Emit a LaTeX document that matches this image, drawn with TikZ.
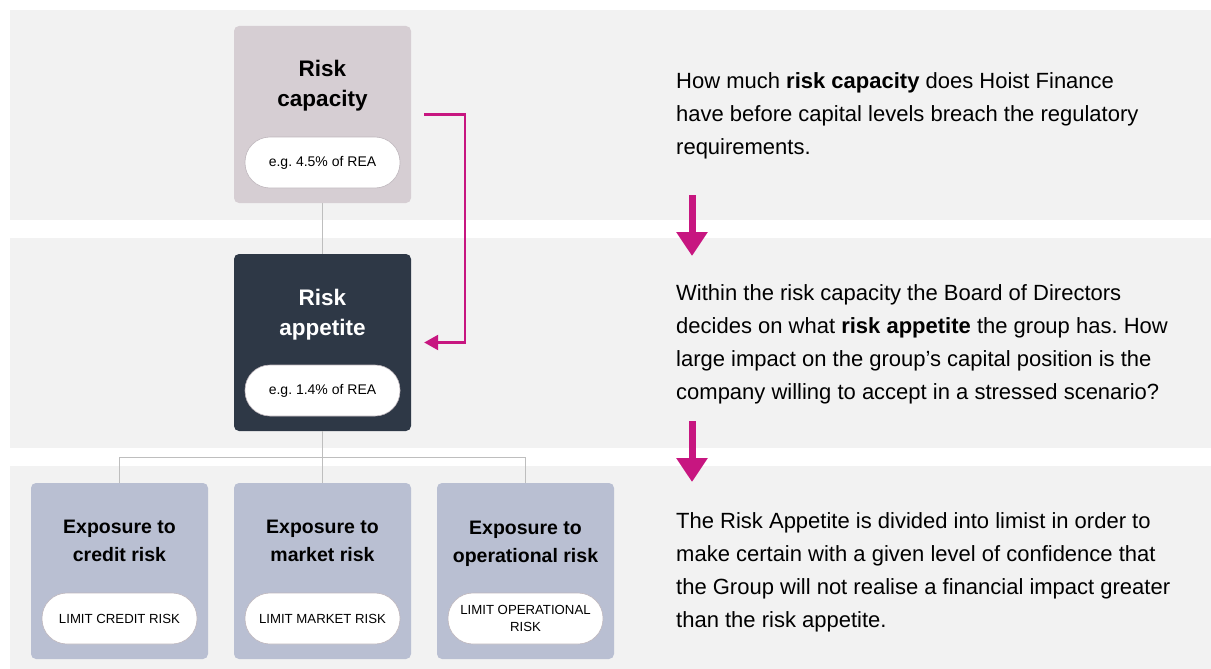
\documentclass[tikz,border=0pt]{standalone}
\usepackage{fontspec}
\setmainfont{Liberation Sans}
\usetikzlibrary{arrows.meta}
\definecolor{bandgray}{RGB}{242,242,242}
\definecolor{capfill}{RGB}{214,206,211}
\definecolor{appfill}{RGB}{46,56,70}
\definecolor{expfill}{RGB}{185,191,210}
\definecolor{hoistpink}{RGB}{199,22,128}
\definecolor{linkgray}{RGB}{190,190,190}
\definecolor{pillline}{RGB}{190,182,188}
\frenchspacing
\begin{document}
\begin{tikzpicture}
[x=1pt,y=-1pt,
box/.style={rounded corners=5pt,minimum width=177pt,minimum height=177pt,inner sep=0pt},
title/.style={font=\fontsize{22.5}{30}\selectfont\bfseries,align=center},
subtitle/.style={font=\fontsize{19.5}{28}\selectfont\bfseries,align=center},
pill/.style={draw=pillline,line width=.6pt,fill=white,rounded corners=25pt,minimum width=155pt,minimum height=51pt,inner sep=0pt,font=\fontsize{14}{16}\selectfont,align=center},
limit/.style={pill,font=\fontsize{13.2}{17}\selectfont},
note/.style={anchor=north west,inner sep=0pt,align=left,font=\fontsize{22}{33}\selectfont},
link/.style={draw=linkgray,line width=.8pt},
loop/.style={draw=hoistpink,line width=2.4pt,-{Triangle[length=14pt,width=15pt]}},
downarrow/.style={draw=hoistpink,line width=7pt,-{Triangle[length=24pt,width=30pt]}}]
\useasboundingbox (0,0) rectangle (1211,669);
\fill[bandgray] (10,10) rectangle (1211,220);
\fill[bandgray] (10,238) rectangle (1211,448);
\fill[bandgray] (10,466) rectangle (1211,669);
\node[box,fill=capfill] (cap) at (322.5,114.5) {};
\node[box,fill=appfill] (app) at (322.5,342.5) {};
\node[box,fill=expfill,minimum height=176pt] (credit) at (119.5,571) {};
\node[box,fill=expfill,minimum height=176pt] (market) at (322.5,571) {};
\node[box,fill=expfill,minimum height=176pt] (oper) at (525.5,571) {};
\node[title] (captitle) at (322.5,86) {Risk\\capacity};
\node[title,text=white] (apptitle) at (322.5,314.5) {Risk\\appetite};
\node[subtitle] (credittitle) at (119.5,541) {Exposure to\\credit risk};
\node[subtitle] (markettitle) at (322.5,541) {Exposure to\\market risk};
\node[subtitle] (opertitle) at (525.5,543.5) {Exposure to\\operational risk};
\node[pill] (cappill) at (322.5,162.5) {e.g. 4.5\% of REA};
\node[pill] (apppill) at (322.5,390.5) {e.g. 1.4\% of REA};
\node[limit] (creditpill) at (119.5,618.5) {LIMIT CREDIT RISK};
\node[limit] (marketpill) at (322.5,618.5) {LIMIT MARKET RISK};
\node[limit] (operpill) at (525.5,618.5) {LIMIT OPERATIONAL\\RISK};
\coordinate (split) at (322.5,457);
\draw[link] (cap.south) -- (app.north);
\draw[link] (app.south) -- (market.north);
\draw[link] (split) -| (credit.north);
\draw[link] (split) -| (oper.north);
\draw[loop] ([xshift=13pt]cap.east) -- ++(41,0) |- ([xshift=13pt]app.east);
\node[note] (capnote) at (676,72) {How much \textbf{risk capacity} does Hoist Finance\\have before capital levels breach the regulatory\\requirements.};
\node[note] (appnote) at (676,284) {Within the risk capacity the Board of Directors\\decides on what \textbf{risk appetite} the group has. How\\large impact on the group’s capital position is the\\company willing to accept in a stressed scenario?};
\node[note] (limitnote) at (676,512) {The Risk Appetite is divided into limist in order to\\make certain with a given level of confidence that\\the Group will not realise a financial impact greater\\than the risk appetite.};
\coordinate (down1a) at (692,195);
\coordinate (down1b) at (692,256);
\coordinate (down2a) at (692,421);
\coordinate (down2b) at (692,482);
\draw[downarrow] (down1a) -- (down1b);
\draw[downarrow] (down2a) -- (down2b);
\end{tikzpicture}
\end{document}
